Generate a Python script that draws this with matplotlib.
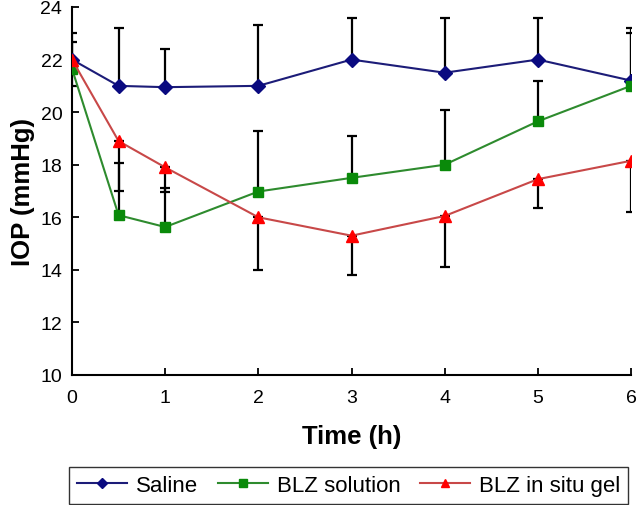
import matplotlib
matplotlib.use("Agg")
import matplotlib.pyplot as plt

plt.rcParams['font.family'] = ['Liberation Sans', 'DejaVu Sans']

time_h = [0, 0.5, 1, 2, 3, 4, 5, 6]
saline = [22.0, 21.0, 20.95, 21.0, 22.0, 21.5, 22.0, 21.2]
saline_err_up = [1.0, 2.2, 1.45, 2.3, 1.57, 2.07, 1.57, 2.0]
blz_solution = [21.65, 16.08, 15.63, 16.98, 17.5, 18.0, 19.65, 21.0]
blz_solution_err_up = [1.0, 2.0, 1.47, 2.3, 1.6, 2.1, 1.55, 2.0]
blz_gel = [22.0, 18.9, 17.9, 16.0, 15.3, 16.05, 17.45, 18.15]
blz_gel_err_down = [1.0, 1.9, 0.95, 2.0, 1.5, 1.95, 1.1, 1.95]

labels = ['Saline', 'BLZ solution', 'BLZ in situ gel']
xticks = [0, 1, 2, 3, 4, 5, 6]
yticks = [10, 12, 14, 16, 18, 20, 22, 24]

fig = plt.figure(figsize=(6.4, 5.06), dpi=100)
ax = fig.add_axes([72/640, 1 - 376/506, (631 - 72)/640, (376 - 8)/506])

zeros = [0] * len(time_h)
eb_kw = dict(fmt='none', ecolor='black', elinewidth=1.6, capsize=3.8, capthick=1.6, zorder=2)
ax.errorbar(time_h, saline, yerr=[zeros, saline_err_up], **eb_kw)
ax.errorbar(time_h, blz_solution, yerr=[zeros, blz_solution_err_up], **eb_kw)
ax.errorbar(time_h, blz_gel, yerr=[blz_gel_err_down, zeros], **eb_kw)

ax.plot(time_h, saline, color='#1c1c78', lw=1.5, marker='D', ms=7,
        mfc='#0a0a80', mec='#0a0a80', label=labels[0], zorder=3)
ax.plot(time_h, blz_solution, color='#2e8b2e', lw=1.5, marker='s', ms=7,
        mfc='#0a8a0a', mec='#0a8a0a', label=labels[1], zorder=3)
ax.plot(time_h, blz_gel, color='#c84848', lw=1.5, marker='^', ms=8,
        mfc='#ff0000', mec='#ff0000', label=labels[2], zorder=3)

ax.set_xlim(0, 6)
ax.set_ylim(10, 24)
ax.set_xticks(xticks)
ax.set_yticks(yticks)
ax.tick_params(direction='in', length=5, width=1.3, labelsize=14)
ax.tick_params(axis='x', pad=10)
ax.tick_params(axis='y', pad=7)
for s in ['top', 'right']:
    ax.spines[s].set_visible(False)
for s in ['left', 'bottom']:
    ax.spines[s].set_linewidth(1.5)
ax.set_xlabel('Time (h)', fontsize=18.5, fontweight='bold', labelpad=13)
ax.set_ylabel('IOP (mmHg)', fontsize=18.5, fontweight='bold', labelpad=4)

leg = fig.legend(loc='lower center', ncol=3, bbox_to_anchor=(348.5/640, 1/506),
                 fontsize=16, frameon=True, fancybox=False,
                 edgecolor='black', handlelength=2.25, handletextpad=0.4,
                 borderpad=0.35, borderaxespad=0, columnspacing=0.9,
                 markerscale=0.8)
leg.get_frame().set_linewidth(1.0)

fig.savefig('out.png', dpi=100)
